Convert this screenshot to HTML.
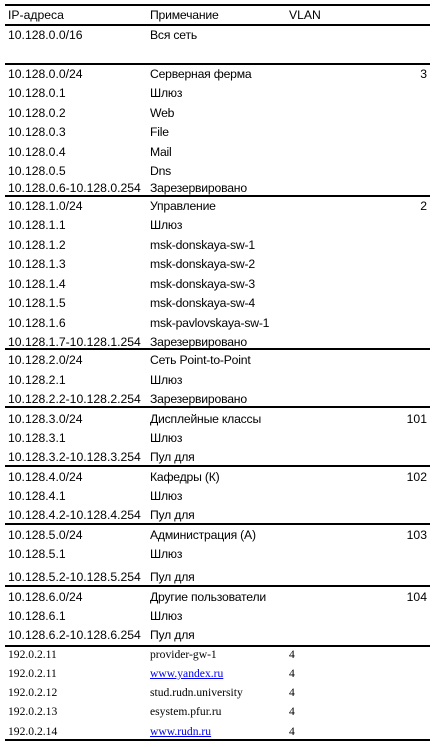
<!DOCTYPE html>
<html><head><meta charset="utf-8"><style>
body{margin:0;width:436px;height:747px;background:#fff;position:relative;overflow:hidden;font-family:"Liberation Sans","Noto Sans CJK SC",sans-serif;font-size:12.2px;color:#000}
.r{position:absolute;left:0;width:436px;height:14px;line-height:14px;margin-top:1px}
.r span{position:absolute;white-space:nowrap}
.a{left:8px}.b{left:150px}.c{right:9px}
.b{letter-spacing:-0.2px}
.s{font-family:"Liberation Serif",serif;font-size:11.6px}
.s .b{letter-spacing:0}
.s .c{left:289px;right:auto}
.l{position:absolute;left:5px;width:425px;height:2px;background:#000}
a{color:#0000ee;text-decoration:underline}
</style></head><body>
<div class="l" style="top:4px"></div>
<div class="l" style="top:24px"></div>
<div class="l" style="top:63px"></div>
<div class="l" style="top:195px"></div>
<div class="l" style="top:348px"></div>
<div class="l" style="top:406px"></div>
<div class="l" style="top:465px"></div>
<div class="l" style="top:523px"></div>
<div class="l" style="top:585px"></div>
<div class="l" style="top:645px"></div>
<div class="l" style="top:739px"></div>

<div class="r" style="top:7px"><span class="a">IP-адреса</span><span class="b">Примечание</span><span style="left:289px">VLAN</span></div>
<div class="r" style="top:27px"><span class="a">10.128.0.0/16</span><span class="b">Вся сеть</span></div>

<div class="r" style="top:66px"><span class="a">10.128.0.0/24</span><span class="b">Серверная ферма</span><span class="c">3</span></div>
<div class="r" style="top:85px"><span class="a">10.128.0.1</span><span class="b">Шлюз</span></div>
<div class="r" style="top:105px"><span class="a">10.128.0.2</span><span class="b">Web</span></div>
<div class="r" style="top:124px"><span class="a">10.128.0.3</span><span class="b">File</span></div>
<div class="r" style="top:144px"><span class="a">10.128.0.4</span><span class="b">Mail</span></div>
<div class="r" style="top:163px"><span class="a">10.128.0.5</span><span class="b">Dns</span></div>
<div class="r" style="top:180px"><span class="a">10.128.0.6-10.128.0.254</span><span class="b">Зарезервировано</span></div>

<div class="r" style="top:198px"><span class="a">10.128.1.0/24</span><span class="b">Управление</span><span class="c">2</span></div>
<div class="r" style="top:217px"><span class="a">10.128.1.1</span><span class="b">Шлюз</span></div>
<div class="r" style="top:237px"><span class="a">10.128.1.2</span><span class="b">msk-donskaya-sw-1</span></div>
<div class="r" style="top:256px"><span class="a">10.128.1.3</span><span class="b">msk-donskaya-sw-2</span></div>
<div class="r" style="top:276px"><span class="a">10.128.1.4</span><span class="b">msk-donskaya-sw-3</span></div>
<div class="r" style="top:295px"><span class="a">10.128.1.5</span><span class="b">msk-donskaya-sw-4</span></div>
<div class="r" style="top:315px"><span class="a">10.128.1.6</span><span class="b">msk-pavlovskaya-sw-1</span></div>
<div class="r" style="top:334px"><span class="a">10.128.1.7-10.128.1.254</span><span class="b">Зарезервировано</span></div>

<div class="r" style="top:352px"><span class="a">10.128.2.0/24</span><span class="b">Сеть Point-to-Point</span></div>
<div class="r" style="top:372px"><span class="a">10.128.2.1</span><span class="b">Шлюз</span></div>
<div class="r" style="top:391px"><span class="a">10.128.2.2-10.128.2.254</span><span class="b">Зарезервировано</span></div>

<div class="r" style="top:411px"><span class="a">10.128.3.0/24</span><span class="b">Дисплейные классы</span><span class="c">101</span></div>
<div class="r" style="top:430px"><span class="a">10.128.3.1</span><span class="b">Шлюз</span></div>
<div class="r" style="top:449px"><span class="a">10.128.3.2-10.128.3.254</span><span class="b">Пул для</span></div>

<div class="r" style="top:469px"><span class="a">10.128.4.0/24</span><span class="b">Кафедры (К)</span><span class="c">102</span></div>
<div class="r" style="top:488px"><span class="a">10.128.4.1</span><span class="b">Шлюз</span></div>
<div class="r" style="top:507px"><span class="a">10.128.4.2-10.128.4.254</span><span class="b">Пул для</span></div>

<div class="r" style="top:527px"><span class="a">10.128.5.0/24</span><span class="b">Администрация (А)</span><span class="c">103</span></div>
<div class="r" style="top:546px"><span class="a">10.128.5.1</span><span class="b">Шлюз</span></div>
<div class="r" style="top:569px"><span class="a">10.128.5.2-10.128.5.254</span><span class="b">Пул для</span></div>

<div class="r" style="top:589px"><span class="a">10.128.6.0/24</span><span class="b">Другие пользователи</span><span class="c">104</span></div>
<div class="r" style="top:608px"><span class="a">10.128.6.1</span><span class="b">Шлюз</span></div>
<div class="r" style="top:627px"><span class="a">10.128.6.2-10.128.6.254</span><span class="b">Пул для</span></div>

<div class="r s" style="top:647px"><span class="a">192.0.2.11</span><span class="b">provider-gw-1</span><span class="c">4</span></div>
<div class="r s" style="top:666px"><span class="a">192.0.2.11</span><span class="b"><a>www.yandex.ru</a></span><span class="c">4</span></div>
<div class="r s" style="top:685px"><span class="a">192.0.2.12</span><span class="b">stud.rudn.university</span><span class="c">4</span></div>
<div class="r s" style="top:704px"><span class="a">192.0.2.13</span><span class="b">esystem.pfur.ru</span><span class="c">4</span></div>
<div class="r s" style="top:724px"><span class="a">192.0.2.14</span><span class="b"><a>www.rudn.ru</a></span><span class="c">4</span></div>
</body></html>
